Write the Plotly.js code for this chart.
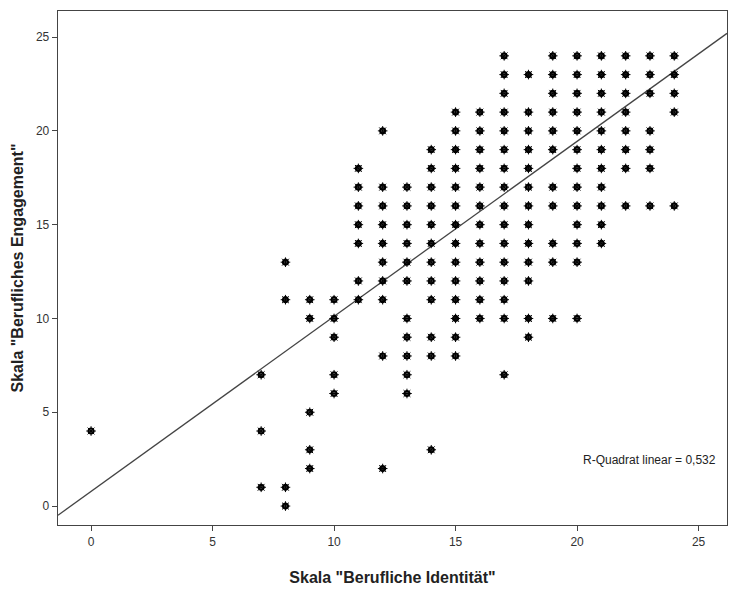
<!DOCTYPE html>
<html>
<head>
<meta charset="utf-8">
<script src="https://cdn.plot.ly/plotly-3.0.1.min.js"></script>
<style>html,body{margin:0;padding:0;background:#fff;}#chart{width:729px;height:590px;}</style>
</head>
<body>
<div id="chart"></div>
<script>
// Observed (x, y) value combinations, grouped by x value ("Berufliche Identität")
const identityValues = [0, 7, 8, 9, 10, 11, 12, 13, 14, 15, 16, 17, 18, 19, 20, 21, 22, 23, 24];
const engagementByIdentity = [
  [4],
  [7, 4, 1],
  [13, 11, 1, 0],
  [11, 10, 5, 3, 2],
  [11, 10, 9, 7, 6],
  [18, 17, 16, 15, 14, 12, 11],
  [20, 17, 16, 15, 14, 13, 12, 11, 8, 2],
  [17, 16, 15, 14, 13, 12, 10, 9, 8, 7, 6],
  [19, 18, 17, 16, 15, 14, 13, 12, 11, 9, 8, 3],
  [21, 20, 19, 18, 17, 16, 15, 14, 13, 12, 11, 10, 9, 8],
  [21, 20, 19, 18, 17, 16, 15, 14, 13, 12, 11, 10],
  [24, 23, 22, 21, 20, 19, 18, 17, 16, 15, 14, 13, 12, 11, 10, 7],
  [23, 21, 20, 19, 18, 17, 16, 15, 14, 13, 12, 10, 9],
  [24, 23, 22, 21, 20, 19, 17, 16, 14, 13, 10],
  [24, 23, 22, 21, 20, 19, 18, 17, 16, 15, 14, 13, 10],
  [24, 23, 22, 21, 20, 19, 18, 17, 16, 15, 14],
  [24, 23, 22, 21, 20, 19, 18, 16],
  [24, 23, 22, 20, 19, 18, 16],
  [24, 23, 22, 21, 16]
];
// Linear fit and R²
const fitIntercept = 0.78;
const fitSlope = 0.933;
const rSquaredLabel = "R-Quadrat linear = 0,532";
const tickValues = [0, 5, 10, 15, 20, 25];
const xTitle = 'Skala "Berufliche Identität"';
const yTitle = 'Skala "Berufliches Engagement"';

const xRange = [-1.36, 26.17];
const yRange = [-1.01, 26.39];

const xs = [], ys = [];
identityValues.forEach((xv, i) => {
  engagementByIdentity[i].forEach(yv => { xs.push(xv); ys.push(yv); });
});

const lineX = [xRange[0], xRange[1]];
const lineY = lineX.map(v => fitIntercept + fitSlope * v);

const traces = [
  {
    x: lineX, y: lineY, mode: 'lines', type: 'scatter',
    line: {color: '#444', width: 1.3}, hoverinfo: 'skip'
  },
  {
    x: xs, y: ys, mode: 'markers', type: 'scatter',
    marker: {symbol: 'asterisk-open', size: 8, color: '#000', line: {color: '#000', width: 1}}
  },
  {
    x: xs, y: ys, mode: 'markers', type: 'scatter',
    marker: {symbol: 'circle-open', size: 5, color: '#000', line: {color: '#000', width: 2.2}}
  }
];

const axisCommon = {
  showgrid: false, zeroline: false, showline: true, linecolor: '#444', linewidth: 1.3,
  ticks: 'outside', ticklen: 5, tickcolor: '#444', tickwidth: 1,
  tickvals: tickValues, ticktext: tickValues.map(String),
  tickfont: {family: 'Liberation Sans, Arial, sans-serif', size: 12, color: '#333'}
};

const layout = {
  width: 729, height: 590,
  margin: {l: 58, r: 2, t: 11, b: 65},
  paper_bgcolor: '#fff', plot_bgcolor: '#fff',
  showlegend: false,
  xaxis: Object.assign({}, axisCommon, {
    range: xRange, mirror: true,
    title: {text: xTitle, standoff: 24, font: {family: 'Liberation Sans, Arial, sans-serif', size: 16, color: '#222', weight: 'bold'}}
  }),
  yaxis: Object.assign({}, axisCommon, {
    range: yRange, mirror: true,
    title: {text: yTitle, standoff: 8, font: {family: 'Liberation Sans, Arial, sans-serif', size: 16, color: '#222', weight: 'bold'}}
  }),
  annotations: [{
    x: 25.8, y: 2.45, xref: 'x', yref: 'y', xanchor: 'right', yanchor: 'middle',
    text: rSquaredLabel, showarrow: false,
    font: {family: 'Liberation Sans, Arial, sans-serif', size: 12, color: '#222'}
  }]
};

Plotly.newPlot('chart', traces, layout, {displayModeBar: false, staticPlot: true});
</script>
</body>
</html>
